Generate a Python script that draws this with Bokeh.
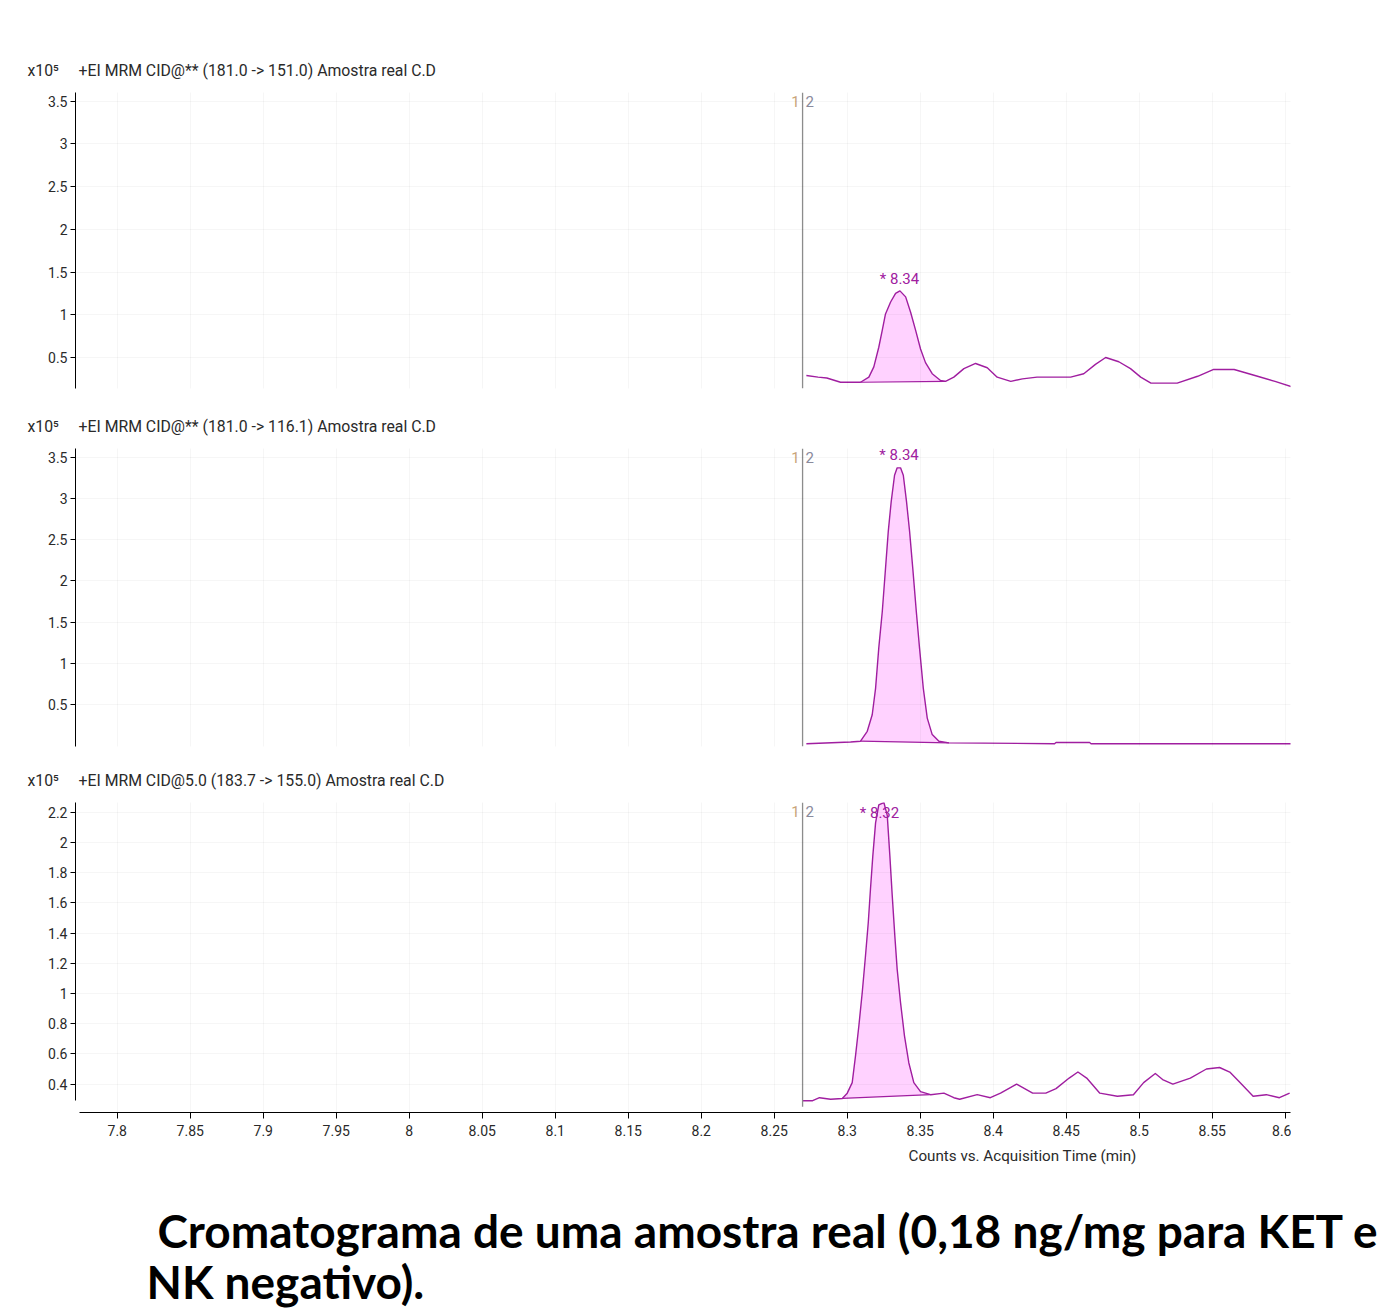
import numpy as np
from bokeh.plotting import figure
from bokeh.layouts import column
from bokeh.models import Range1d, FixedTicker, Label, Span, Grid, NumeralTickFormatter, Title
from bokeh.embed import file_html
from bokeh.resources import INLINE

FONT = "Roboto"
CAP_FONT = "Lato"

# ---------------- data (counts in x10^5, time in min) ----------------
time1 = [8.272, 8.280, 8.286, 8.2954, 8.3091, 8.3148, 8.3182, 8.3216, 8.3240, 8.3262,
         8.3297, 8.3331, 8.3361, 8.3400, 8.3434, 8.3468, 8.3502, 8.3536, 8.3582, 8.3639,
         8.3673, 8.3730, 8.3799, 8.3879, 8.3959, 8.4027, 8.412, 8.420, 8.430, 8.453,
         8.462, 8.470, 8.477, 8.486, 8.494, 8.501, 8.508, 8.526, 8.540, 8.551,
         8.565, 8.581, 8.593, 8.604]
counts1 = [0.29, 0.27, 0.26, 0.21, 0.21, 0.27, 0.39, 0.62, 0.82, 1.01,
           1.15, 1.25, 1.28, 1.21, 1.03, 0.82, 0.60, 0.44, 0.31, 0.23,
           0.22, 0.27, 0.37, 0.43, 0.38, 0.27, 0.22, 0.25, 0.27, 0.27,
           0.31, 0.42, 0.50, 0.45, 0.37, 0.27, 0.20, 0.20, 0.28, 0.36,
           0.36, 0.28, 0.22, 0.16]

time2 = [8.272, 8.3023, 8.3091, 8.3137, 8.3171, 8.3194, 8.3216, 8.3240, 8.3262, 8.3281,
         8.3301, 8.3324, 8.3342, 8.3365, 8.3384, 8.3406, 8.3427, 8.3449, 8.3473, 8.3495,
         8.3521, 8.3548, 8.3582, 8.3628, 8.3696, 8.442, 8.443, 8.466, 8.467, 8.604]
counts2 = [0.03, 0.05, 0.06, 0.18, 0.38, 0.70, 1.19, 1.63, 2.15, 2.60,
           2.96, 3.28, 3.37, 3.37, 3.28, 2.96, 2.60, 2.15, 1.63, 1.19,
           0.70, 0.34, 0.14, 0.06, 0.04, 0.03, 0.045, 0.045, 0.03, 0.03]

time3 = [8.2695, 8.2763, 8.281, 8.2886, 8.2966, 8.3000, 8.3034, 8.3057, 8.3080, 8.3103,
         8.3125, 8.3144, 8.3159, 8.3175, 8.3194, 8.3216, 8.3251, 8.3274, 8.3292, 8.3308,
         8.3326, 8.3342, 8.3365, 8.3392, 8.3422, 8.3456, 8.3502, 8.3571, 8.3662, 8.3730,
         8.377, 8.389, 8.398, 8.405, 8.416, 8.427, 8.436, 8.443, 8.452, 8.458,
         8.464, 8.473, 8.485, 8.496, 8.503, 8.511, 8.516, 8.523, 8.535, 8.546,
         8.555, 8.562, 8.569, 8.578, 8.587, 8.596, 8.603]
counts3 = [0.29, 0.29, 0.31, 0.30, 0.305, 0.34, 0.41, 0.59, 0.79, 1.01,
           1.25, 1.47, 1.69, 1.91, 2.13, 2.25, 2.265, 2.18, 1.91, 1.65,
           1.38, 1.16, 0.94, 0.72, 0.54, 0.41, 0.35, 0.33, 0.34, 0.31,
           0.30, 0.33, 0.31, 0.34, 0.40, 0.34, 0.34, 0.37, 0.44, 0.48,
           0.44, 0.34, 0.32, 0.33, 0.41, 0.47, 0.43, 0.40, 0.44, 0.50,
           0.51, 0.48, 0.41, 0.32, 0.33, 0.31, 0.34]

titles = ["+EI MRM CID@** (181.0 -> 151.0) Amostra real C.D",
          "+EI MRM CID@** (181.0 -> 116.1) Amostra real C.D",
          "+EI MRM CID@5.0 (183.7 -> 155.0) Amostra real C.D"]
scale_prefix = "x10\u2075"
peak_labels = ["* 8.34", "* 8.34", "* 8.32"]
peak_label_x = [8.3358, 8.3355, 8.3221]
peak_label_y = [1.425, 3.527, 2.197]
peak_start = [8.3091, 8.3091, 8.2966]
peak_end = [8.3673, 8.3696, 8.3571]
marker_time = 8.2694

x_ticks = [7.8, 7.85, 7.9, 7.95, 8.0, 8.05, 8.1, 8.15, 8.2, 8.25, 8.3, 8.35, 8.4,
           8.45, 8.5, 8.55, 8.6]
y_ticks_a = [0.5, 1.0, 1.5, 2.0, 2.5, 3.0, 3.5]
y_ticks_c = [0.4, 0.6, 0.8, 1.0, 1.2, 1.4, 1.6, 1.8, 2.0, 2.2]
x_label = "Counts vs. Acquisition Time (min)"
caption_lines = ["Cromatograma de uma amostra real (0,18 ng/mg para KET e",
                 "NK negativo)."]

LINE = "#a01ea0"
FILL = "#ffd2ff"
TXT = "#2a2a2a"
NB = "\u00a0"

x_range = Range1d(7.7714, 8.6036)

specs = [
    dict(t=time1, c=counts1, yr=(0.137, 3.603), yt=y_ticks_a, h=400, top=92, bot=12, xaxis=False, ybounds=None),
    dict(t=time2, c=counts2, yr=(-0.004, 3.604), yt=y_ticks_a, h=355, top=48, bot=9, xaxis=False, ybounds=None),
    dict(t=time3, c=counts3, yr=(0.212, 2.265), yt=y_ticks_c, h=417, top=47, bot=60, xaxis=True, ybounds=(0.29, 2.265)),
]

figs = []
for i, s in enumerate(specs):
    p = figure(width=1291, height=s["h"], x_range=x_range,
               y_range=Range1d(*s["yr"]), output_backend="svg", toolbar_location=None,
               x_axis_location="below" if s["xaxis"] else None,
               min_border_left=75, min_border_right=1,
               min_border_top=s["top"], min_border_bottom=s["bot"])
    p.outline_line_color = None
    p.background_fill_color = "white"
    p.border_fill_color = "white"
    for g in p.grid:
        g.visible = False
    p.add_layout(Grid(dimension=0, ticker=FixedTicker(ticks=x_ticks), grid_line_color="black",
                      grid_line_alpha=0.035, level="overlay"))
    p.add_layout(Grid(dimension=1, ticker=FixedTicker(ticks=s["yt"]), grid_line_color="black",
                      grid_line_alpha=0.035, level="overlay"))

    # panel title
    p.title = Title(text=scale_prefix + NB * 5 + titles[i], align="left", offset=-48,
                    standoff=26, text_font=FONT, text_font_size="15.8px",
                    text_font_style="normal", text_color=TXT)

    ya = p.yaxis[0]
    ya.ticker = FixedTicker(ticks=s["yt"], minor_ticks=[])
    ya.formatter = NumeralTickFormatter(format="0.[00]")
    ya.axis_line_color = "black"
    ya.major_tick_line_color = "black"
    ya.major_tick_out = 5
    ya.major_tick_in = 0
    ya.minor_tick_line_color = None
    ya.major_label_standoff = 3
    ya.major_label_text_font = FONT
    ya.major_label_text_font_size = "14px"
    ya.major_label_text_color = TXT
    if s["ybounds"]:
        ya.bounds = s["ybounds"]

    if s["xaxis"]:
        xa = p.xaxis[0]
        xa.ticker = FixedTicker(ticks=x_ticks, minor_ticks=[])
        xa.formatter = NumeralTickFormatter(format="0.[00]")
        xa.axis_line_color = "black"
        xa.major_tick_line_color = "black"
        xa.major_tick_out = 6
        xa.major_tick_in = 0
        xa.minor_tick_line_color = None
        xa.major_label_standoff = 6
        xa.major_label_text_font = FONT
        xa.major_label_text_font_size = "14px"
        xa.major_label_text_color = TXT
        xa.bounds = (7.774, 8.6036)
        p.add_layout(Title(text=x_label, align="left", offset=833, standoff=12,
                           text_font=FONT, text_font_size="15.2px", text_font_style="normal",
                           text_color=TXT), "below")

    t = np.array(s["t"])
    c = np.array(s["c"])
    # integrated peak: fill between curve and straight baseline
    m = (t >= peak_start[i] - 1e-9) & (t <= peak_end[i] + 1e-9)
    tp, cp = t[m], c[m]
    base = np.interp(tp, [tp[0], tp[-1]], [cp[0], cp[-1]])
    p.varea(x=tp, y1=base, y2=cp, fill_color=FILL, fill_alpha=1.0)
    p.line([tp[0], tp[-1]], [cp[0], cp[-1]], line_color=LINE, line_width=1.2)
    p.line(t, c, line_color=LINE, line_width=1.4, line_join="round")

    # marker line "1|2"
    frame_h = s["h"] - s["top"] - s["bot"]
    if s["ybounds"]:
        p.segment(x0=[marker_time], y0=[0.25], x1=[marker_time], y1=[s["yr"][1]],
                  line_color="#8c8c8c", line_width=1.3)
    else:
        p.add_layout(Span(location=marker_time, dimension="height", line_color="#8c8c8c",
                          line_width=1.3))
    p.add_layout(Label(x=marker_time, y=frame_h - 9, x_units="data", y_units="screen", text="1",
                       x_offset=-3, text_align="right", text_baseline="middle",
                       text_font=FONT, text_font_size="15px", text_color="#c9a47a"))
    p.add_layout(Label(x=marker_time, y=frame_h - 9, x_units="data", y_units="screen", text="2",
                       x_offset=3, text_align="left", text_baseline="middle",
                       text_font=FONT, text_font_size="15px", text_color="#8a8a9c"))

    # peak label
    p.add_layout(Label(x=peak_label_x[i], y=peak_label_y[i], text=peak_labels[i],
                       text_align="center", text_baseline="middle", text_font=FONT,
                       text_font_size="15px", text_color="#a020a0"))
    figs.append(p)

# caption (frame starts at page x = 75, so data x = page x)
CH = 136
pc = figure(width=1390, height=CH, x_range=Range1d(75, 1390), y_range=Range1d(0, CH),
            output_backend="svg", toolbar_location=None, x_axis_location=None,
            y_axis_location=None, min_border_left=75, min_border_right=0,
            min_border_top=0, min_border_bottom=0)
pc.outline_line_color = None
pc.grid.visible = False
pc.add_layout(Label(x=157, y=CH - 58, text=caption_lines[0], text_font=CAP_FONT,
                    text_font_style="bold", text_font_size="46px", text_color="black",
                    text_baseline="middle"))
pc.add_layout(Label(x=146, y=CH - 109, text=caption_lines[1], text_font=CAP_FONT,
                    text_font_style="bold", text_font_size="46px", text_color="black",
                    text_baseline="middle"))
figs.append(pc)

layout = column(*figs, spacing=0)
open("out.html", "w").write(file_html(layout, INLINE))
